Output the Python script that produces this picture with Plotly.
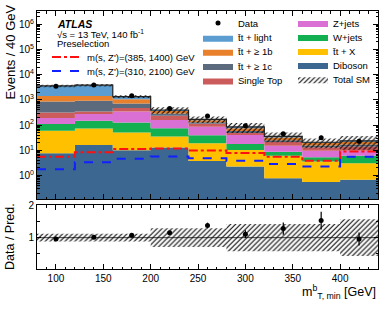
import plotly.graph_objects as go

# ---------------- data ----------------
edges = [80, 120, 160, 200, 240, 280, 320, 360, 400, 440]
centers = [100, 140, 180, 220, 260, 300, 340, 380, 420]

diboson = [7.6, 16.3, 10.0, 13.1, 3.8, 2.3, 0.78, 0.55, 0.68]
tt_x = [52, 58, 41, 22.6, 15.2, 8.1, 5.4, 3.05, 2.4]
w_jets = [51, 75, 77, 40, 21, 7.5, 2.7, 1.7, 3.1]
z_jets = [80, 126, 219, 83, 47, 22.7, 6.5, 4.4, 3.5]
single_top = [127, 72, 129, 80, 27, 8.4, 6.0, 3.5, 4.5]
tt_1c = [550, 573, 244, 50, 16, 10, 4.0, 2.5, 3.0]
tt_1b = [580, 530, 350, 80, 27, 17, 7.0, 3.7, 4.8]
tt_light = [2150, 2400, 290, 30, 13, 9, 3.6, 1.6, 2.0]

data = [3460, 3890, 1455, 460, 233, 94, 46, 32, 23]
data_err = [59, 62, 38, 21, 15, 10, 6.8, 5.7, 4.8]
sys_unc = [0.12, 0.12, 0.12, 0.29, 0.29, 0.42, 0.42, 0.42, 0.56]

sig_385_1400 = [5.6, 8.4, 11.4, 11.8, 9.8, 7.9, 5.6, 3.9, 9.1]
sig_310_2100 = [1.8, 3.4, 4.6, 5.7, 4.9, 3.9, 2.9, 2.3, 5.6]

y_tickvals = [1, 10, 100, 1000, 1e4, 1e5, 1e6]
y_ticktext = ["10<sup>0</sup>", "10<sup>1</sup>", "10<sup>2</sup>", "10<sup>3</sup>",
              "10<sup>4</sup>", "10<sup>5</sup>", "10<sup>6</sup>"]
x_tickvals = [100, 150, 200, 250, 300, 350, 400]
r_tickvals = [1, 2]
r_ticktext = ["1", "2"]

TT = "t\u0304t"
stack = [
    ("Diboson", diboson, "#3b6790"),
    (TT + " + X", tt_x, "#ffc000"),
    ("W+jets", w_jets, "#12b050"),
    ("Z+jets", z_jets, "#da6fd4"),
    ("Single Top", single_top, "#cc5b5b"),
    (TT + " + \u2265 1c", tt_1c, "#5b6a7d"),
    (TT + " + \u2265 1b", tt_1b, "#e8802c"),
    (TT + " + light", tt_light, "#5b9dd0"),
]

# ---------------- geometry helpers ----------------
W, H = 389, 311
ML, MR, MT, MB = 37, 11, 11, 42
PW, PH = W - ML - MR, H - MT - MB


def px(xp):
    return (xp - ML) / PW


def py(yp):
    return (H - MB - yp) / PH


def step(v):
    return list(v) + [v[-1]]


FONT = "Liberation Sans, Arial, sans-serif"
HATCH = dict(shape="/", fgcolor="black", bgcolor="rgba(0,0,0,0)", size=3.5, solidity=0.3)
fig = go.Figure()

# baseline for the first filled layer
fig.add_trace(go.Scatter(x=edges, y=step([1e-3] * len(centers)), mode="lines",
                         line=dict(width=0, shape="hv"), showlegend=False,
                         hoverinfo="skip", xaxis="x", yaxis="y"))

C1, C2, C3 = 198, 293, 47
legend_pos = {
    "Data": ("legend", C1, 23),
    TT + " + light": ("legend2", C1, 37.7),
    TT + " + \u2265 1b": ("legend3", C1, 51.7),
    TT + " + \u2265 1c": ("legend4", C1, 66),
    "Single Top": ("legend5", C1, 80.5),
    "Z+jets": ("legend6", C2, 23),
    "W+jets": ("legend7", C2, 37),
    TT + " + X": ("legend8", C2, 51),
    "Diboson": ("legend9", C2, 65),
    "Total SM": ("legend10", C2, 79.3),
    "m(s, Z')=(385, 1400) GeV": ("legend11", C3, 57),
    "m(s, Z')=(310, 2100) GeV": ("legend12", C3, 71),
}

cum = [0.0] * len(centers)
for name, vals, col in stack:
    cum = [c + v for c, v in zip(cum, vals)]
    fig.add_trace(go.Scatter(x=edges, y=step(cum), mode="lines", name=name,
                             line=dict(width=0, shape="hv"), fill="tonexty",
                             fillcolor=col, legend=legend_pos[name][0],
                             hoverinfo="skip", xaxis="x", yaxis="y"))
total = cum

# uncertainty band (main)
lo = [t * (1 - u) for t, u in zip(total, sys_unc)]
hi = [t * (1 + u) for t, u in zip(total, sys_unc)]
fig.add_trace(go.Scatter(x=edges, y=step(lo), mode="lines", line=dict(width=0, shape="hv"),
                         showlegend=False, hoverinfo="skip", xaxis="x", yaxis="y"))
fig.add_trace(go.Scatter(x=edges, y=step(hi), mode="lines", name="Total SM",
                         line=dict(width=0, shape="hv"), fill="tonexty",
                         fillcolor="rgba(0,0,0,0)", fillpattern=HATCH,
                         legend=legend_pos["Total SM"][0], hoverinfo="skip",
                         xaxis="x", yaxis="y"))
# total outline
fig.add_trace(go.Scatter(x=edges, y=step(total), mode="lines",
                         line=dict(color="#222222", width=1.2, shape="hv"),
                         showlegend=False, hoverinfo="skip", xaxis="x", yaxis="y"))

# signals
fig.add_trace(go.Scatter(x=edges, y=step(sig_385_1400), mode="lines",
                         name="m(s, Z')=(385, 1400) GeV",
                         line=dict(color="#ff1010", width=2, dash="dashdot", shape="hv"),
                         legend=legend_pos["m(s, Z')=(385, 1400) GeV"][0],
                         xaxis="x", yaxis="y"))
fig.add_trace(go.Scatter(x=edges, y=step(sig_310_2100), mode="lines",
                         name="m(s, Z')=(310, 2100) GeV",
                         line=dict(color="#1020ff", width=2, dash="dash", shape="hv"),
                         legend=legend_pos["m(s, Z')=(310, 2100) GeV"][0],
                         xaxis="x", yaxis="y"))

# data
fig.add_trace(go.Scatter(x=centers, y=data, mode="markers", name="Data",
                         marker=dict(color="black", size=5),
                         error_y=dict(type="data", array=data_err, color="black",
                                      thickness=1.2, width=0),
                         legend=legend_pos["Data"][0], xaxis="x", yaxis="y"))

# ---------------- ratio panel ----------------
ratio = [d / t for d, t in zip(data, total)]
ratio_err = [e / t for e, t in zip(data_err, total)]
r_lo = [1 - u for u in sys_unc]
r_hi = [1 + u for u in sys_unc]
fig.add_trace(go.Scatter(x=edges, y=step(r_lo), mode="lines", line=dict(width=0, shape="hv"),
                         showlegend=False, hoverinfo="skip", xaxis="x2", yaxis="y2"))
fig.add_trace(go.Scatter(x=edges, y=step(r_hi), mode="lines", line=dict(width=0, shape="hv"),
                         fill="tonexty", fillcolor="rgba(0,0,0,0)", fillpattern=HATCH,
                         showlegend=False, hoverinfo="skip", xaxis="x2", yaxis="y2"))
fig.add_trace(go.Scatter(x=centers, y=ratio, mode="markers", showlegend=False,
                         marker=dict(color="black", size=5),
                         error_y=dict(type="data", array=ratio_err, color="black",
                                      thickness=1.2, width=0),
                         xaxis="x2", yaxis="y2"))

fig.add_shape(type="line", xref="x2 domain", x0=0, x1=1, yref="y2", y0=1, y1=1,
              line=dict(color="#444444", width=1), layer="below")

# ---------------- layout ----------------
main_bottom = py(199)
ratio_top = py(205)

axis_common = dict(showline=True, linecolor="black", linewidth=1, mirror="ticks",
                   ticks="inside", tickcolor="black", showgrid=False, zeroline=False,
                   automargin=False,
                   tickfont=dict(size=10, color="black", family=FONT))

legends = {}
for name, (lid, xp_, yp_) in legend_pos.items():
    legends[lid] = dict(x=px(xp_), y=py(yp_), xanchor="left", yanchor="middle",
                        bgcolor="rgba(0,0,0,0)", borderwidth=0,
                        font=dict(size=9.5, color="black", family=FONT),
                        itemwidth=30, tracegroupgap=0)

fig.update_layout(
    template="none",
    width=W, height=H,
    margin=dict(l=ML, r=MR, t=MT, b=MB, autoexpand=False),
    paper_bgcolor="white", plot_bgcolor="white",
    font=dict(family=FONT, color="black"),
    hovermode=False,
    xaxis=dict(axis_common, range=[80, 440], domain=[0, 1], anchor="y",
               tickvals=x_tickvals, showticklabels=False, ticklen=5,
               minor=dict(ticks="inside", ticklen=2.5, dtick=10, tickcolor="black")),
    yaxis=dict(axis_common, type="log", range=[-0.93, 6.53], domain=[main_bottom, 1],
               anchor="x", tickvals=y_tickvals, ticktext=y_ticktext, ticklen=5,
               minor=dict(ticks="inside", ticklen=2.5, dtick="D1", tickcolor="black")),
    xaxis2=dict(axis_common, range=[80, 440], domain=[0, 1], anchor="y2", matches="x",
                tickvals=x_tickvals, ticklen=5,
                minor=dict(ticks="inside", ticklen=2.5, dtick=10, tickcolor="black")),
    yaxis2=dict(axis_common, range=[0.04, 2.0], domain=[0, ratio_top], anchor="x2",
                tickvals=r_tickvals, ticktext=r_ticktext, ticklen=4,
                minor=dict(ticks="inside", ticklen=2.5, dtick=0.5, tickcolor="black")),
    showlegend=True,
    **legends,
)

ann_font = dict(family=FONT, color="black", size=9.5)
fig.add_annotation(text="<b><i>ATLAS</i></b>", xref="paper", yref="paper",
                   x=px(55), y=py(24), xanchor="left", yanchor="middle",
                   showarrow=False, font=dict(ann_font, size=10.5))
fig.add_annotation(text="\u221As = 13 TeV, 140 fb<sup>-1</sup>", xref="paper", yref="paper",
                   x=px(55), y=py(33.5), xanchor="left", yanchor="middle",
                   showarrow=False, font=ann_font)
fig.add_annotation(text="Preselection", xref="paper", yref="paper",
                   x=px(55), y=py(43), xanchor="left", yanchor="middle",
                   showarrow=False, font=ann_font)
fig.add_annotation(text="Events / 40 GeV", xref="paper", yref="paper",
                   x=px(10), y=py(3), xanchor="center", yanchor="top", textangle=-90,
                   showarrow=False, font=dict(ann_font, size=13))
fig.add_annotation(text="Data / Pred.", xref="paper", yref="paper",
                   x=px(10), y=py(237), xanchor="center", yanchor="middle", textangle=-90,
                   showarrow=False, font=dict(ann_font, size=12.5))
fig.add_annotation(text="m<sup>b</sup><sub>T, min</sub> [GeV]", xref="paper", yref="paper",
                   x=1.0, y=py(292), xanchor="right", yanchor="middle",
                   showarrow=False, font=dict(ann_font, size=12.5))

fig.write_html("out.html", config={"displayModeBar": False},
               post_script="document.body.style.margin='0';document.body.style.padding='0';")
